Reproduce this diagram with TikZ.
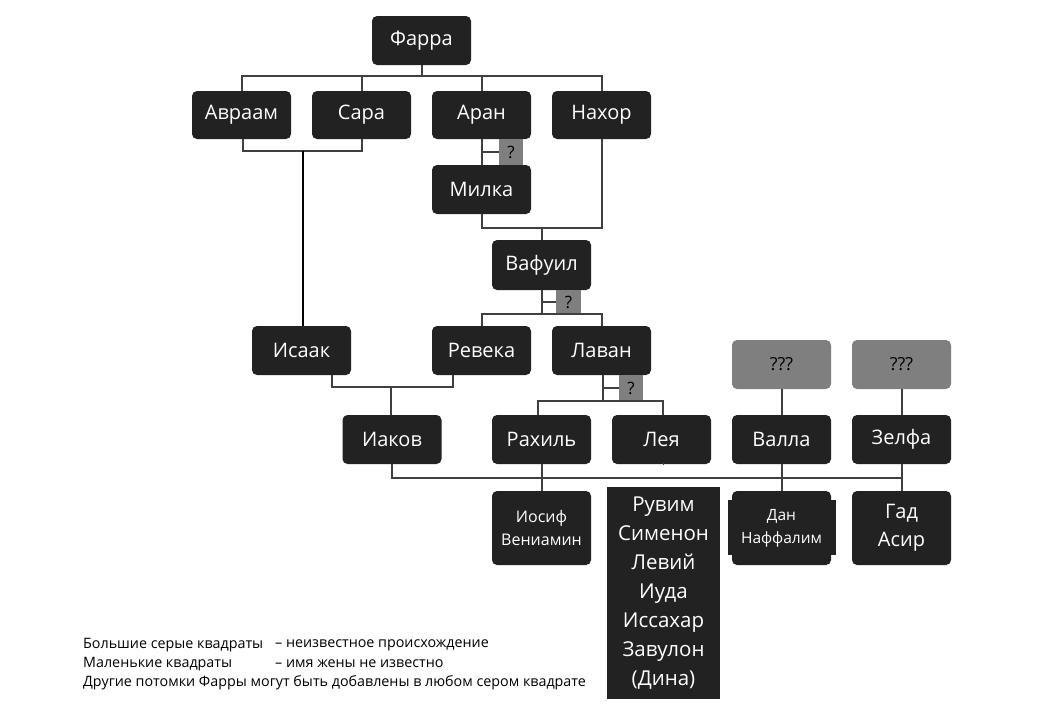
\documentclass[tikz,border=0pt]{standalone}
\usepackage{fontspec}
\setmainfont{Open Sans}
\definecolor{boxc}{HTML}{222222}
\definecolor{grayc}{HTML}{7F7F7F}
\definecolor{linec}{HTML}{404040}
\tikzset{
  person/.style={rounded corners=5pt, fill=boxc, text=white, minimum width=99pt, minimum height=49pt, inner sep=0pt, font=\fontsize{20}{24}\selectfont},
  unknown/.style={rounded corners=5pt, fill=grayc, text=black, minimum width=99pt, minimum height=49pt, inner sep=0pt, font=\fontsize{18}{20}\selectfont},
  qbox/.style={fill=grayc, text=black, inner sep=0pt, font=\fontsize{17}{20}\selectfont},
  kids/.style={rounded corners=5pt, fill=boxc, text=white, minimum width=99pt, minimum height=74pt, inner sep=0pt, align=center},
  conn/.style={draw=linec, line width=2pt},
  thinconn/.style={draw=black, line width=1.4pt},
  legend/.style={anchor=west, inner sep=0pt, font=\fontsize{14.3}{17}\selectfont, text=black}
}
\begin{document}
\begin{tikzpicture}[x=1pt,y=-1pt]
\useasboundingbox[fill=white] (0,0) rectangle (1062,720);
% nodes
\node[person] (farra) at (421.5,40.5) {Фарра};
\node[person, minimum height=48pt] (avraam) at (241.5,115) {Авраам};
\node[person, minimum height=48pt] (sara) at (361.5,115) {Сара};
\node[person, minimum height=48pt] (aran) at (481.5,115) {Аран};
\node[person, minimum height=48pt] (nahor) at (601.5,115) {Нахор};
\node[qbox, minimum width=24pt, minimum height=26pt] (q1) at (511,152) {?};
\node[person] (milka) at (481.5,189.5) {Милка};
\node[person, minimum height=50pt] (vafuil) at (541.5,265) {Вафуил};
\node[qbox, minimum width=25pt, minimum height=24pt] (q2) at (568.5,302) {?};
\node[person] (isaak) at (301.5,350.5) {Исаак};
\node[person] (reveka) at (481.5,350.5) {Ревека};
\node[person] (lavan) at (601.5,350.5) {Лаван};
\node[qbox, minimum width=24pt, minimum height=26pt] (q3) at (631,388) {?};
\node[unknown] (unk1) at (781.5,364.5) {???};
\node[unknown] (unk2) at (901.5,364.5) {???};
\node[person] (iakov) at (392,439.5) {Иаков};
\node[person] (rahil) at (541.5,439.5) {Рахиль};
\node[person] (leya) at (661.5,439.5) {Лея};
\node[person] (valla) at (781.5,439.5) {Валла};
\node[person] (zelfa) at (901.5,439.5) {Зелфа};
\node[kids, font=\fontsize{16}{23}\selectfont] (c1) at (541.5,528) {Иосиф\\Вениамин};
\fill[boxc] (728,500) rectangle (836,555);
\node[kids, font=\fontsize{15.5}{23}\selectfont] (c3) at (781.5,528) {Дан\\Наффалим};
\node[kids, font=\fontsize{20}{28}\selectfont] (c4) at (901.5,528) {Гад\\Асир};
\node[fill=boxc, text=white, minimum width=113pt, minimum height=212pt, inner sep=0pt, align=center, font=\fontsize{20.5}{29}\selectfont] (c2) at (663.5,593) {Рувим\\Сименон\\Левий\\Иуда\\Иссахар\\Завулон\\(Дина)};
% connectors
\draw[conn] (farra.south) -- ++(0,11);
\draw[conn] (avraam.north) -- ++(0,-15) -| (nahor.north);
\draw[conn] (sara.north) -- ++(0,-15);
\draw[conn] (aran.north) -- ++(0,-15);
\draw[conn] ([xshift=1.5pt]avraam.south) -- ++(0,12) -| (sara.south);
\coordinate (m1) at (303,151);
\draw[thinconn] (m1) -- (m1 |- isaak.north);
\draw[conn] (aran.south) -- (milka.north);
\draw[conn] (aran.south |- q1.west) -- (q1.west);
\draw[conn] (milka.south) -- ++(0,14) -| (nahor.south);
\coordinate (m2) at (542,228);
\draw[conn] (m2) -- (m2 |- vafuil.north);
\draw[conn] (vafuil.south) -- ++(0,24);
\draw[conn] (vafuil.south |- q2.west) -- (q2.west);
\draw[conn] (reveka.north) -- ++(0,-12) -| (lavan.north);
\draw[conn] ([xshift=30.5pt]isaak.south) -- ++(0,12) -| ([xshift=-28.5pt]reveka.south);
\coordinate (m3) at (391,387);
\draw[conn] (m3) -- (m3 |- iakov.north);
\draw[conn] ([xshift=1.5pt]lavan.south) -- ++(0,26);
\draw[conn] ([xshift=1.5pt]lavan.south |- q3.west) -- (q3.west);
\draw[conn] ([xshift=-3.5pt]rahil.north) -- ++(0,-14) -| ([xshift=1.5pt]leya.north);
\draw[conn] (unk1.south) -- (valla.north);
\draw[conn] (unk2.south) -- (zelfa.north);
\draw[conn] (iakov.south) -- ++(0,14) -| (zelfa.south);
\draw[conn] (rahil.south) -- (c1.north);
\draw[conn] ([xshift=1.5pt]leya.south) -- (leya.south -| c2.north);
\draw[conn] (valla.south) -- (c3.north);
\draw[conn] (zelfa.south) -- (c4.north);
% legend
\node[legend] (l1a) at (83,645) {Большие серые квадраты};
\node[legend] (l1b) at (275,645) {– неизвестное происхождение};
\node[legend] (l2a) at (83,664) {Маленькие квадраты};
\node[legend] (l2b) at (275,664) {– имя жены не известно};
\node[legend] (l3) at (83,683) {Другие потомки Фарры могут быть добавлены в любом сером квадрате};
\end{tikzpicture}
\end{document}
